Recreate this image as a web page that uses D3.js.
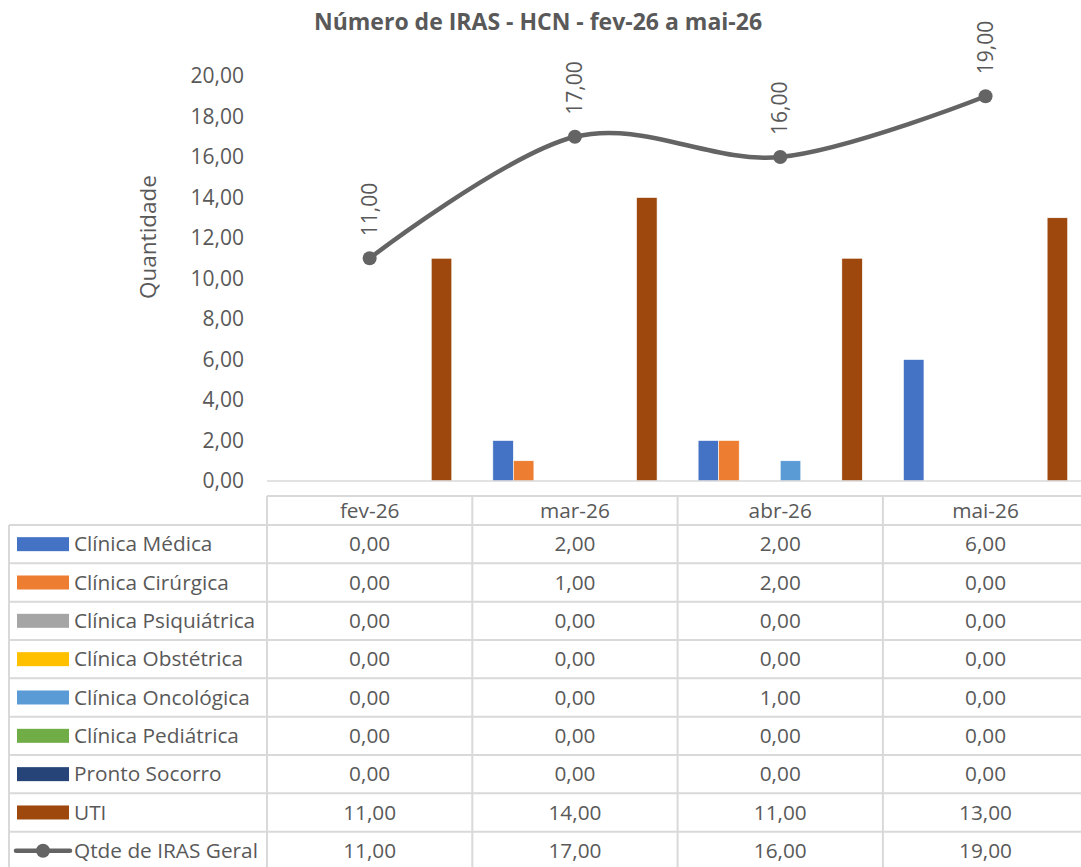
<!DOCTYPE html>
<html><head><meta charset="utf-8">
<script src="https://cdn.jsdelivr.net/npm/d3@7"></script>
<style>
html,body{margin:0;padding:0;background:#fff;overflow:hidden;}
text{font-family:"Open Sans",Lato,sans-serif;fill:#595959;}
</style></head>
<body>
<svg id="c" width="1081" height="867"></svg>
<script>
const categories = ["fev-26","mar-26","abr-26","mai-26"];
const seriesNames = ["Clínica Médica","Clínica Cirúrgica","Clínica Psiquiátrica","Clínica Obstétrica","Clínica Oncológica","Clínica Pediátrica","Pronto Socorro","UTI"];
const clinicaMedica = [0,2,2,6];
const clinicaCirurgica = [0,1,2,0];
const clinicaPsiquiatrica = [0,0,0,0];
const clinicaObstetrica = [0,0,0,0];
const clinicaOncologica = [0,0,1,0];
const clinicaPediatrica = [0,0,0,0];
const prontoSocorro = [0,0,0,0];
const uti = [11,14,11,13];
const totalGeral = [11,17,16,19];
const lineName = "Qtde de IRAS Geral";
const yTicks = [0,2,4,6,8,10,12,14,16,18,20];
const colors = ["#4472C4","#ED7D31","#A5A5A5","#FFC000","#5B9BD5","#70AD47","#264478","#9E480E"];

const barSeries = [clinicaMedica,clinicaCirurgica,clinicaPsiquiatrica,clinicaObstetrica,clinicaOncologica,clinicaPediatrica,prontoSocorro,uti];
const fmt = v => d3.format(".2f")(v).replace(".", ",");
const FS = "20.8px";

const svg = d3.select("#c");
const left = 267, colW = 205.3;
const x = d3.scaleBand().domain(categories).range([left, left + colW*categories.length]).padding(0);
const y = d3.scaleLinear().domain([0,20]).range([481,76]);
const xs = d3.scaleBand().domain(seriesNames).range([x.bandwidth()*0.1, x.bandwidth()*0.9]).padding(0);

// title
svg.append("text").attr("x",538).attr("y",30).attr("text-anchor","middle")
  .style("font-size","23px").style("font-weight","bold").text("Número de IRAS - HCN - fev-26 a mai-26");

// y axis label
svg.append("text").attr("transform","translate(156,237) rotate(-90)").attr("text-anchor","middle")
  .style("font-size","22.5px").text("Quantidade");

// y ticks
svg.append("g").selectAll("text").data(yTicks).join("text")
  .attr("x",244).attr("y",d=>y(d)).attr("dy","0.35em").attr("text-anchor","end")
  .style("font-size","21px").text(d=>fmt(d));

// bars
barSeries.forEach((vals,si)=>{
  svg.append("g").selectAll("rect").data(vals.map((v,i)=>({v,c:categories[i]}))).join("rect")
    .attr("x",d=>x(d.c)+xs(seriesNames[si]))
    .attr("width",xs.bandwidth())
    .attr("y",d=>y(d.v)).attr("height",d=>y(0)-y(d.v))
    .attr("fill",colors[si]).attr("stroke","#fff").attr("stroke-width",0.6);
});

// axis line
svg.append("line").attr("x1",left).attr("x2",1081).attr("y1",y(0)).attr("y2",y(0))
  .attr("stroke","#d9d9d9").attr("stroke-width",1.5);

// line series
const pts = totalGeral.map((v,i)=>[x(categories[i])+x.bandwidth()/2, y(v)]);
svg.append("path").attr("d", d3.line().curve(d3.curveCardinal.tension(0))(pts))
  .attr("fill","none").attr("stroke","#646464").attr("stroke-width",4.5).attr("stroke-linecap","round");
svg.append("g").selectAll("circle").data(pts).join("circle")
  .attr("cx",d=>d[0]).attr("cy",d=>d[1]).attr("r",7).attr("fill","#646464");
svg.append("g").selectAll("text").data(totalGeral).join("text")
  .attr("transform",(d,i)=>`translate(${pts[i][0]+7},${pts[i][1]-22}) rotate(-90)`)
  .attr("text-anchor","start").style("font-size","21px").text(d=>fmt(d));

// data table
const tableTop = 496, headH = 29, rowH = 38.33, tLeft = 9;
const nRows = seriesNames.length + 1;
const g = svg.append("g");
const grid = "#d9d9d9";
g.append("line").attr("x1",left).attr("x2",1081).attr("y1",tableTop).attr("y2",tableTop).attr("stroke",grid).attr("stroke-width",2);
for(let r=0;r<=nRows;r++){
  const yy = tableTop+headH+r*rowH;
  g.append("line").attr("x1",tLeft).attr("x2",1081).attr("y1",yy).attr("y2",yy).attr("stroke",grid).attr("stroke-width",2);
}
g.append("line").attr("x1",tLeft).attr("x2",tLeft).attr("y1",tableTop+headH).attr("y2",900).attr("stroke",grid).attr("stroke-width",2);
categories.forEach(c=>{
  g.append("line").attr("x1",x(c)).attr("x2",x(c)).attr("y1",tableTop).attr("y2",900).attr("stroke",grid).attr("stroke-width",2);
});
g.selectAll("text.h").data(categories).join("text").attr("class","h")
  .attr("x",d=>x(d)+x.bandwidth()/2).attr("y",tableTop+headH/2).attr("dy","0.35em")
  .attr("text-anchor","middle").style("font-size",FS).text(d=>d);
const allRows = barSeries.concat([totalGeral]);
const rowNames = seriesNames.concat([lineName]);
allRows.forEach((vals,r)=>{
  const cy = tableTop+headH+r*rowH+rowH/2;
  if(r<seriesNames.length){
    g.append("rect").attr("x",17).attr("y",cy-7).attr("width",52).attr("height",14).attr("fill",colors[r]);
  } else {
    g.append("line").attr("x1",16).attr("x2",70).attr("y1",cy).attr("y2",cy).attr("stroke","#646464").attr("stroke-width",4.5).attr("stroke-linecap","round");
    g.append("circle").attr("cx",43).attr("cy",cy).attr("r",7).attr("fill","#646464");
  }
  g.append("text").attr("x",74).attr("y",cy).attr("dy","0.35em").style("font-size",FS).text(rowNames[r]);
  vals.forEach((v,i)=>{
    g.append("text").attr("x",x(categories[i])+x.bandwidth()/2).attr("y",cy).attr("dy","0.35em")
      .attr("text-anchor","middle").style("font-size",FS).text(fmt(v));
  });
});
</script>
</body></html>
